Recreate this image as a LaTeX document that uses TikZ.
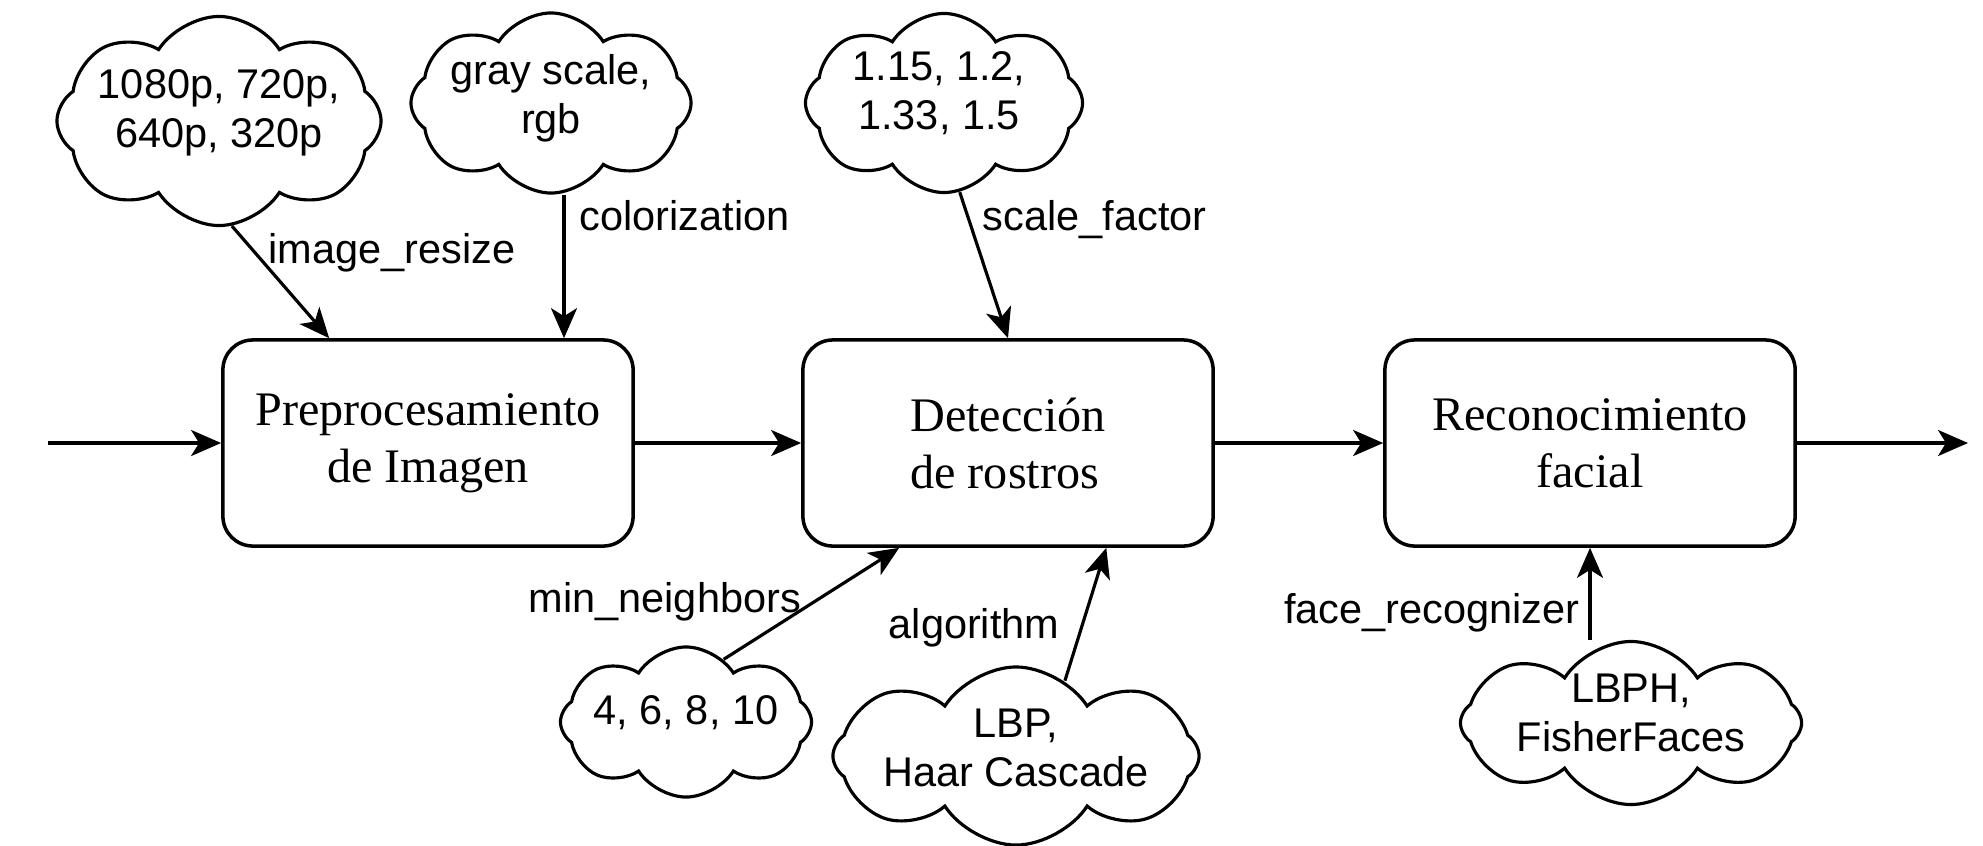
\documentclass[tikz,border=0pt]{standalone}
\usepackage{fontspec}
\setmainfont{Liberation Serif}
\newfontfamily\lsans{Liberation Sans}
\usetikzlibrary{shapes.symbols,arrows.meta,calc}
\tikzset{
  box/.style={draw, line width=1pt, rounded corners=0.3cm, minimum width=4.1cm, minimum height=2.06cm,
    font=\fontsize{13.7}{16.2}\selectfont, align=center, inner sep=0pt},
  cloudn/.style={cloud, draw, line width=0.9pt, cloud puffs=8, cloud puff arc=115, cloud ignores aspect, inner sep=0pt},
  ctext/.style={font=\lsans\fontsize{11.8}{14}\selectfont, align=center, inner sep=0pt},
  lbl/.style={font=\lsans\fontsize{11.8}{14}\selectfont, inner sep=0pt},
  arr/.style={-{Stealth[length=0.3cm,width=0.26cm,inset=0.08cm]}, line width=0.9pt}
}
\begin{document}
\begin{tikzpicture}[x=0.01cm,y=-0.01cm]
\useasboundingbox (0,0) rectangle (1983,845);
% process boxes
\node[box] (b1) at (428,443) {Preprocesamiento\\de Imagen};
\node[box, align=left] (b2) at (1008,443) {Detección\\de rostros};
\node[box] (b3) at (1590,443) {Reconocimiento\\facial};
\coordinate (in) at (48,443);
\coordinate (out) at (1968,443);
% clouds
\node[cloudn, minimum width=3.24cm, minimum height=2.09cm,
  label={[ctext, yshift=0.08cm]center:1080p, 720p,\\640p, 320p}] (c1) at (219,121) {};
\node[cloudn, minimum width=2.80cm, minimum height=1.80cm,
  label={[ctext, yshift=0.05cm]center:gray scale,\\rgb}] (c2) at (551,103) {};
\node[cloudn, minimum width=2.77cm, minimum height=1.79cm,
  label={[ctext, yshift=0.1cm, xshift=-0.05cm]center:1.15, 1.2,\\1.33, 1.5}] (c3) at (944,103) {};
\node[cloudn, minimum width=2.51cm, minimum height=1.50cm,
  label={[ctext, yshift=0.09cm]center:4, 6, 8, 10}] (c4) at (686,722) {};
\node[cloudn, minimum width=3.66cm, minimum height=1.78cm,
  label={[ctext, yshift=0.08cm]center:LBP,\\Haar Cascade}] (c5) at (1016,756) {};
\node[cloudn, minimum width=3.41cm, minimum height=1.63cm,
  label={[ctext, yshift=0.1cm]center:LBPH,\\FisherFaces}] (c6) at (1631,723) {};
% main flow
\draw[arr] (in) -- (b1.west);
\draw[arr] (b1.east) -- (b2.west);
\draw[arr] (b2.east) -- (b3.west);
\draw[arr] (b3.east) -- (out);
% parameter arrows
\draw[arr] (c1.-83) -- ([xshift=1.08cm]b1.north west);
\draw[arr] ([xshift=0.13cm]c2.south) -- ([xshift=0.13cm]c2.south |- b1.north);
\draw[arr] (c3.-80) -- (b2.north);
\draw[arr] (c4.59) -- ([xshift=0.98cm]b2.south west);
\draw[arr] (c5.57) -- ([xshift=3.05cm]b2.south west);
\draw[arr] (b3.south |- c6.north) -- (b3.south);
% labels
\node[lbl, anchor=base west] (limg) at (268,263) {image\_resize};
\node[lbl, anchor=base west] (lcol) at (579,230) {colorization};
\node[lbl, anchor=base west] (lsca) at (982,230) {scale\_factor};
\node[lbl, anchor=base west] (lmin) at (528,612) {min\_neighbors};
\node[lbl, anchor=base west] (lalg) at (888,638) {algorithm};
\node[lbl, anchor=base east] (lfac) at (1580,623) {face\_recognizer};
\end{tikzpicture}
\end{document}
